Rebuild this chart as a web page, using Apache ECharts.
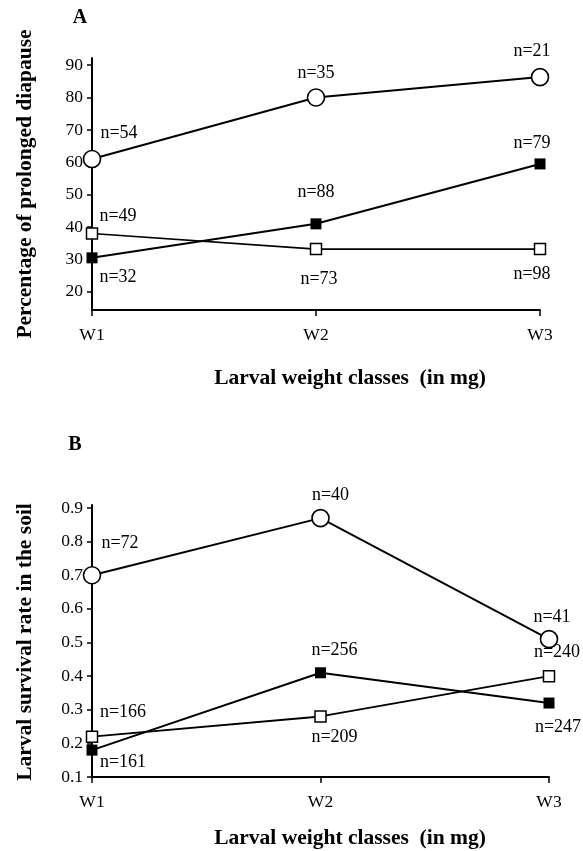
<!DOCTYPE html>
<html><head><meta charset="utf-8">
<script src="https://cdn.jsdelivr.net/npm/echarts@6/dist/echarts.min.js"></script>
<style>html,body{margin:0;padding:0;background:#fff}#c{width:583px;height:851px}</style>
</head><body><div id="c"></div><script>
// ---- data ----
const categories = ['W1', 'W2', 'W3'];
const yTicksA = [20, 30, 40, 50, 60, 70, 80, 90];
const yTicksB = [0.1, 0.2, 0.3, 0.4, 0.5, 0.6, 0.7, 0.8, 0.9];

const diapauseCircle = [61, 80, 86.3];
const diapauseFilled = [30.5, 41, 59.5];
const diapauseOpen = [38, 33.2, 33.2];
const nDiapauseCircle = ['n=54', 'n=35', 'n=21'];
const nDiapauseFilled = ['n=32', 'n=88', 'n=79'];
const nDiapauseOpen = ['n=49', 'n=73', 'n=98'];

const survivalCircle = [0.70, 0.87, 0.51];
const survivalFilled = [0.18, 0.41, 0.32];
const survivalOpen = [0.22, 0.28, 0.40];
const nSurvivalCircle = ['n=72', 'n=40', 'n=41'];
const nSurvivalFilled = ['n=161', 'n=256', 'n=247'];
const nSurvivalOpen = ['n=166', 'n=209', 'n=240'];

// ---- label offsets (style) ----
const offA = {
  circle: [[27, -26], [0, -24], [-8, -26]],
  filled: [[26, 19], [0, -32], [-8, -21]],
  open: [[26, -17], [3, 30], [-8, 25]]
};
const offB = {
  circle: [[28, -32], [10, -23], [3, -22]],
  filled: [[31, 12], [14, -23], [9, 24]],
  open: [[31, -24], [14, 21], [8, -24]]
};

const FONT = '"Liberation Serif", "Times New Roman", serif';

function mkData(vals, labels, offs) {
  return vals.map((v, i) => ({
    value: v,
    label: { show: true, position: 'inside', formatter: labels[i], offset: offs[i] }
  }));
}

const labelStyle = { color: '#000', fontFamily: FONT, fontSize: 18 };

function mkSeries(idx, vals, labels, offs, kind, lw) {
  const s = {
    type: 'line', xAxisIndex: idx, yAxisIndex: idx,
    data: mkData(vals, labels, offs),
    lineStyle: { color: '#000', width: lw },
    label: labelStyle,
    z: kind === 'circle' ? 5 : 4,
    emphasis: { disabled: true }
  };
  if (kind === 'circle') {
    s.symbol = 'circle'; s.symbolSize = 17;
    s.itemStyle = { color: '#fff', borderColor: '#000', borderWidth: 1.6 };
  } else if (kind === 'filled') {
    s.symbol = 'rect'; s.symbolSize = 11;
    s.itemStyle = { color: '#000', borderColor: '#000', borderWidth: 0 };
  } else {
    s.symbol = 'rect'; s.symbolSize = 11;
    s.itemStyle = { color: '#fff', borderColor: '#000', borderWidth: 1.5 };
  }
  s.showAllSymbol = true;
  return s;
}

function xAx(gi) {
  return {
    type: 'category', gridIndex: gi, data: categories, boundaryGap: false,
    axisLine: { lineStyle: { color: '#000', width: 2 } },
    axisTick: { show: true, length: 6, inside: false, lineStyle: { color: '#000', width: 1.5 } },
    axisLabel: { color: '#000', fontFamily: FONT, fontSize: 17.5, margin: 16 },
    splitLine: { show: false }
  };
}
function yAx(gi, min, max, ticks, fmt) {
  return {
    type: 'value', gridIndex: gi, min: min, max: max,
    axisLine: { show: true, lineStyle: { color: '#000', width: 2 } },
    axisTick: { show: true, length: 5, inside: false, customValues: ticks, lineStyle: { color: '#000', width: 1.5 } },
    axisLabel: { color: '#000', fontFamily: FONT, fontSize: 17.5, margin: 9, customValues: ticks, formatter: fmt },
    splitLine: { show: false }
  };
}

const TITLE = { fontFamily: FONT, fontWeight: 'bold', fontSize: 21.5, fill: '#000', align: 'center', verticalAlign: 'middle' };

const chart = echarts.init(document.getElementById('c'), null, { renderer: 'canvas' });
chart.setOption({
  animation: false,
  backgroundColor: '#fff',
  grid: [
    { left: 92, top: 58, width: 448, height: 252 },
    { left: 92, top: 505, width: 457, height: 272 }
  ],
  xAxis: [xAx(0), xAx(1)],
  yAxis: [
    yAx(0, 14.4, 92.2, yTicksA, v => String(v)),
    yAx(1, 0.1, 0.909, yTicksB, v => Number(v).toFixed(1))
  ],
  series: [
    mkSeries(0, diapauseCircle, nDiapauseCircle, offA.circle, 'circle', 2),
    mkSeries(0, diapauseFilled, nDiapauseFilled, offA.filled, 'filled', 2),
    mkSeries(0, diapauseOpen, nDiapauseOpen, offA.open, 'open', 1.6),
    mkSeries(1, survivalCircle, nSurvivalCircle, offB.circle, 'circle', 2),
    mkSeries(1, survivalFilled, nSurvivalFilled, offB.filled, 'filled', 2),
    mkSeries(1, survivalOpen, nSurvivalOpen, offB.open, 'open', 1.8)
  ],
  graphic: [
    { type: 'text', x: 80, y: 18, style: Object.assign({}, TITLE, { text: 'A', fontSize: 20 }) },
    { type: 'text', x: 75, y: 445, style: Object.assign({}, TITLE, { text: 'B', fontSize: 20 }) },
    { type: 'text', x: 350, y: 378, style: Object.assign({}, TITLE, { text: 'Larval weight classes  (in mg)' }) },
    { type: 'text', x: 350, y: 838, style: Object.assign({}, TITLE, { text: 'Larval weight classes  (in mg)' }) },
    { type: 'text', x: 25, y: 184, rotation: Math.PI / 2, style: Object.assign({}, TITLE, { text: 'Percentage of prolonged diapause' }) },
    { type: 'text', x: 25, y: 642, rotation: Math.PI / 2, style: Object.assign({}, TITLE, { text: 'Larval survival rate in the soil' }) }
  ]
});
</script></body></html>
